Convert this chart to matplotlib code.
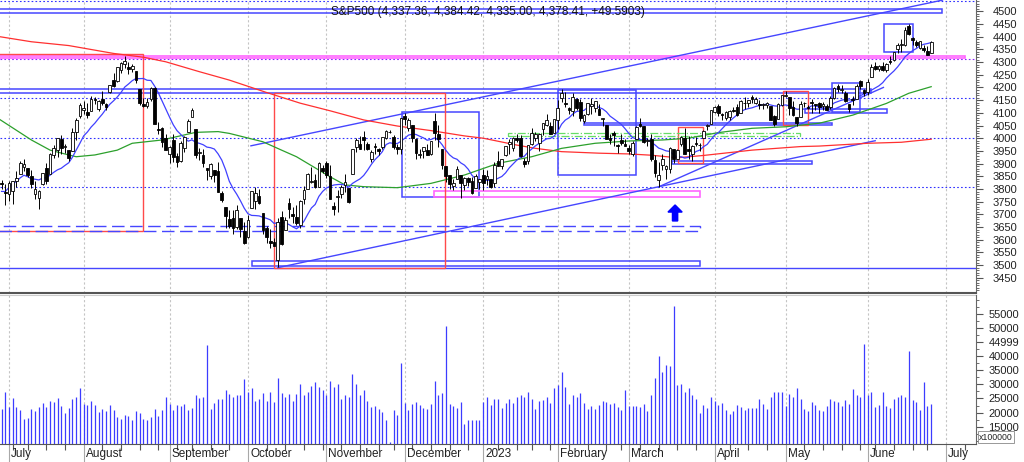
import numpy as np
import pandas as pd
import matplotlib
matplotlib.use("Agg")
import matplotlib.pyplot as plt
from matplotlib.patches import Rectangle, Polygon
from matplotlib.ticker import FixedLocator, FixedFormatter, MultipleLocator

plt.rcParams['font.family'] = ['Liberation Sans', 'DejaVu Sans']

# ---------------- data (index -2 = 2022-06-29 ... 247 = 2023-06-27) ----------------
opens = [
 3825.09,3785.99,3781.00,3792.61,3831.98,3858.85,3888.26,3880.94,3851.95,3779.67,
 3763.99,3818.00,3883.79,3860.73,3935.32,3955.47,3998.43,3965.72,3953.22,3951.43,
 4026.13,4087.33,4112.38,4104.21,4107.96,4154.85,4115.87,4155.93,4133.11,4181.02,
 4227.40,4225.02,4269.37,4290.46,4280.40,4273.13,4266.31,4195.08,4133.09,4126.55,
 4153.26,4198.74,4034.58,4041.25,4000.67,3936.73,3994.66,3930.89,3909.43,3959.94,
 4022.94,4083.67,4037.12,3940.73,3932.41,3880.95,3849.91,3875.23,3871.40,3782.36,
 3727.14,3682.72,3686.44,3651.94,3687.01,3633.48,3609.78,3726.46,3753.25,3771.97,
 3706.74,3647.51,3595.86,3590.83,3520.37,3690.41,3638.65,3746.26,3703.11,3689.05,
 3657.10,3762.01,3799.44,3825.97,3834.69,3808.26,3881.85,3901.79,3852.90,3733.25,
 3766.98,3780.71,3817.02,3805.45,3859.89,3963.72,3977.97,4006.41,3976.82,3919.26,
 3966.39,3956.23,3965.51,4000.30,4023.34,4005.36,3964.19,3957.18,4087.14,4040.17,
 4052.02,3996.63,3933.28,3947.79,3954.17,3939.29,4069.38,4015.54,3958.37,3890.91,
 3853.79,3810.47,3839.49,3853.26,3815.11,3843.34,3829.56,3805.45,3829.06,3853.29,
 3840.36,3839.74,3823.37,3910.82,3888.57,3932.35,3977.57,3960.60,3999.28,4002.25,
 3911.84,3909.04,3978.14,4001.74,3982.71,4036.08,4053.72,4049.27,4020.85,4070.07,
 4158.68,4136.69,4119.57,4105.35,4153.47,4144.25,4068.92,4096.62,4126.70,4119.50,
 4114.75,4077.39,4052.35,4001.83,4018.60,3973.24,3992.36,3977.19,3963.34,3938.68,
 3998.02,4055.15,4048.26,3987.55,3998.66,3912.77,3835.12,3894.01,3876.74,3878.93,
 3958.69,3917.47,3975.89,4002.04,3959.21,3939.21,3982.93,3974.13,3999.53,4046.74,
 4056.18,4102.20,4128.03,4094.50,4081.15,4085.20,4110.29,4121.72,4100.04,4140.11,
 4137.17,4164.26,4139.33,4130.48,4132.14,4132.07,4126.43,4087.78,4075.29,4129.63,
 4166.79,4164.10,4122.25,4082.61,4084.73,4136.98,4124.25,4143.74,4132.24,4138.54,
 4126.65,4127.95,4122.85,4157.68,4204.15,4190.78,4176.80,4132.96,4155.71,4156.16,
 4226.71,4190.74,4183.03,4241.01,4282.99,4271.61,4285.47,4268.69,4304.88,4308.32,
 4352.61,4366.29,4365.33,4440.95,4396.11,4380.01,4355.40,4354.17,4344.84,4337.36]
highs = [
 3836.50,3818.99,3829.82,3832.19,3870.91,3910.63,3918.50,3880.94,3873.41,3829.44,
 3796.41,3863.62,3902.44,3939.81,3974.13,3999.29,4012.44,3975.30,3953.22,4039.56,
 4078.95,4140.15,4144.95,4140.47,4167.66,4161.29,4151.58,4186.62,4137.30,4211.03,
 4257.91,4280.47,4301.79,4325.28,4302.18,4292.53,4266.31,4195.08,4159.77,4156.56,
 4200.54,4203.04,4062.99,4044.98,4015.37,3970.23,4018.43,3942.55,3987.89,4010.50,
 4076.81,4119.28,4037.12,3961.94,3959.14,3880.95,3900.45,3876.01,3907.07,3790.78,
 3727.14,3715.67,3717.53,3736.74,3687.01,3671.44,3698.35,3791.92,3806.91,3797.93,
 3706.74,3652.17,3640.66,3608.34,3685.41,3712.00,3689.73,3762.79,3728.58,3736.00,
 3757.89,3810.74,3862.85,3886.15,3859.95,3905.42,3893.73,3911.79,3894.44,3750.59,
 3796.34,3813.95,3859.40,3805.45,3958.33,4001.48,4008.97,4028.84,3983.09,3954.33,
 3979.89,3962.00,4005.88,4033.78,4034.02,4012.27,3976.77,4080.11,4100.51,4080.48,
 4052.45,4001.51,3957.57,3966.64,3977.02,3990.71,4100.96,4053.76,3958.37,3890.91,
 3854.86,3838.24,3889.28,3853.26,3845.80,3846.65,3848.32,3858.19,3839.85,3878.46,
 3873.16,3839.74,3906.19,3950.57,3919.83,3970.07,3997.76,4003.95,4015.39,4014.16,
 3922.94,3972.96,4039.31,4023.92,4019.55,4061.57,4094.21,4063.85,4077.16,4148.95,
 4195.44,4182.36,4124.63,4176.54,4156.85,4156.23,4094.36,4138.90,4159.77,4148.11,
 4136.54,4081.51,4052.35,4017.37,4028.30,3978.25,4018.05,3997.50,3971.73,3990.84,
 4048.29,4078.49,4050.00,4000.41,4017.81,3934.05,3905.05,3937.29,3894.26,3964.46,
 3958.91,3956.62,4009.08,4039.49,4007.66,3972.74,4003.83,3979.20,4030.59,4057.85,
 4110.75,4127.66,4133.13,4099.69,4107.32,4109.50,4124.26,4134.37,4150.26,4163.19,
 4151.72,4169.48,4162.57,4148.57,4138.02,4142.41,4126.43,4089.67,4138.24,4170.06,
 4186.92,4164.10,4148.30,4082.61,4147.02,4142.30,4130.35,4154.28,4132.80,4143.74,
 4141.25,4135.54,4164.67,4202.20,4212.91,4209.22,4185.68,4132.96,4165.74,4212.87,
 4231.10,4195.44,4232.43,4290.67,4299.28,4288.33,4299.19,4298.01,4322.62,4340.13,
 4375.37,4391.82,4439.20,4448.47,4400.15,4386.22,4382.25,4366.55,4362.06,4384.42]
lows = [
 3799.02,3738.67,3752.10,3742.06,3809.37,3858.85,3869.34,3847.22,3802.36,3759.07,
 3721.56,3817.18,3818.63,3860.73,3922.03,3927.64,3938.85,3943.46,3910.74,3951.43,
 3992.97,4079.22,4096.02,4079.81,4107.96,4135.42,4107.31,4128.97,4112.09,4177.26,
 4201.41,4219.78,4256.90,4277.77,4253.08,4261.98,4218.70,4129.86,4124.03,4119.97,
 4147.59,4057.66,4017.42,3965.21,3954.53,3903.65,3906.21,3886.75,3906.03,3944.81,
 4022.94,4083.67,3921.21,3912.86,3888.28,3837.08,3838.50,3827.54,3789.49,3749.45,
 3647.47,3644.76,3623.29,3640.61,3610.40,3584.13,3604.93,3726.46,3722.66,3739.22,
 3620.73,3588.10,3568.45,3573.86,3491.58,3578.27,3638.65,3686.53,3666.51,3656.44,
 3647.42,3741.65,3799.44,3824.07,3803.79,3808.26,3863.18,3843.80,3758.68,3698.15,
 3708.84,3764.70,3786.28,3744.62,3859.89,3944.82,3956.40,3953.17,3954.34,3906.54,
 3935.98,3933.34,3956.88,3998.66,4020.76,3955.77,3937.65,3938.58,4050.87,4026.63,
 3984.49,3918.39,3922.68,3922.76,3933.04,3935.30,3993.03,3965.65,3879.45,3827.91,
 3800.04,3795.62,3839.49,3764.49,3797.01,3813.22,3780.78,3805.45,3800.34,3794.33,
 3815.77,3802.42,3809.56,3890.42,3877.29,3928.54,3937.56,3947.67,3984.57,3926.59,
 3885.54,3897.86,3971.64,3989.79,3949.06,4013.29,4048.70,4015.55,4020.44,4037.20,
 4141.88,4123.36,4093.38,4088.39,4111.67,4069.67,4060.79,4092.67,4095.01,4103.98,
 4089.49,4047.95,3995.19,3976.90,3969.19,3943.08,3973.55,3968.98,3939.05,3928.16,
 3995.17,4044.61,3980.31,3969.76,3908.70,3846.32,3808.86,3873.63,3838.24,3864.11,
 3901.27,3916.89,3971.19,3936.17,3919.05,3909.16,3970.47,3951.53,3999.53,4032.10,
 4056.18,4097.56,4086.87,4072.56,4069.84,4072.55,4102.61,4086.94,4099.40,4113.20,
 4123.18,4140.36,4134.49,4114.57,4113.86,4117.77,4071.38,4049.35,4075.29,4127.18,
 4164.12,4089.72,4088.86,4048.28,4084.73,4123.81,4116.65,4098.92,4109.29,4099.12,
 4110.27,4109.86,4113.62,4153.50,4180.20,4179.68,4142.54,4103.98,4129.73,4156.16,
 4192.18,4166.15,4171.64,4241.01,4266.82,4263.09,4263.96,4261.07,4291.70,4304.37,
 4337.51,4337.85,4362.60,4407.44,4367.19,4360.14,4351.82,4341.34,4328.08,4335.00]
closes = [
 3818.83,3785.38,3825.33,3831.39,3845.08,3902.62,3899.38,3854.43,3818.80,3801.78,
 3790.38,3863.16,3830.85,3936.69,3959.90,3998.95,3961.63,3966.84,3921.05,4023.61,
 4072.43,4130.29,4118.63,4091.19,4155.17,4151.94,4145.19,4140.06,4122.47,4210.24,
 4207.27,4280.15,4297.14,4305.20,4274.04,4283.74,4228.48,4137.99,4128.73,4140.77,
 4199.12,4057.66,4030.61,3986.16,3955.00,3966.85,3924.26,3908.19,3979.87,4006.18,
 4067.36,4110.41,3932.69,3946.01,3901.35,3873.33,3899.89,3855.93,3789.93,3757.99,
 3693.23,3655.04,3647.29,3719.04,3640.47,3585.62,3678.43,3790.93,3783.28,3744.52,
 3639.66,3612.39,3588.84,3577.03,3669.91,3583.07,3677.95,3719.98,3695.16,3665.78,
 3752.75,3797.34,3859.11,3830.60,3807.30,3901.06,3871.98,3856.10,3759.69,3719.89,
 3770.55,3806.80,3828.11,3748.57,3956.37,3992.93,3957.25,3991.73,3958.79,3946.56,
 3965.34,3949.94,4003.58,4027.26,4026.12,3963.94,3957.63,4080.11,4076.57,4071.70,
 3998.84,3941.26,3933.92,3963.51,3934.38,3990.56,4019.65,3995.32,3895.75,3852.36,
 3817.66,3821.62,3878.44,3822.39,3844.82,3829.25,3783.22,3849.28,3839.50,3824.14,
 3852.97,3808.10,3895.08,3892.09,3919.25,3969.61,3983.17,3999.09,3990.97,3928.86,
 3898.85,3972.61,4019.81,4016.95,4016.22,4060.43,4070.56,4017.77,4076.60,4119.21,
 4179.76,4136.48,4111.08,4164.00,4117.86,4081.50,4090.46,4137.29,4136.13,4147.60,
 4090.41,4079.09,3997.34,3991.05,4012.32,3970.04,3982.24,3970.15,3951.39,3981.35,
 4045.64,4048.42,3986.37,3992.01,3918.32,3861.59,3855.76,3919.29,3891.93,3960.28,
 3916.64,3951.57,4002.87,3936.97,3948.72,3970.99,3977.53,3971.27,4027.81,4050.83,
 4109.31,4124.51,4100.60,4090.38,4105.02,4109.11,4108.94,4091.95,4146.22,4137.64,
 4151.32,4154.87,4154.52,4129.79,4133.52,4137.04,4071.63,4055.99,4135.35,4169.48,
 4167.87,4119.58,4090.75,4061.22,4136.25,4138.12,4119.17,4137.64,4130.62,4124.08,
 4136.28,4109.90,4158.77,4198.05,4191.98,4192.63,4145.58,4115.24,4151.28,4205.45,
 4205.52,4179.83,4221.02,4282.37,4273.79,4283.85,4267.52,4293.93,4298.86,4338.93,
 4369.01,4372.59,4425.84,4409.59,4388.71,4365.69,4381.89,4348.33,4328.82,4378.41]
# closes of the 9 sessions before the first candle (only feed the 10-day average)
prior_closes = [3789.99, 3666.77, 3674.84, 3764.79, 3759.89, 3795.73, 3911.74, 3900.11, 3821.55]
# volume in units of 100000 shares
volumes = [
 21300,27200,22100,25300,22100,20900,17700,18200,21300,20700,
 21800,23300,21800,24100,23800,25000,22300,19700,21700,24800,
 25600,28800,23000,22700,24200,22600,20100,21400,20700,22600,
 20900,18400,17700,19100,18900,17500,20500,19800,17700,17500,
 18400,21400,18900,20800,25600,23000,20900,22600,22300,23000,
 20900,21500,26300,25300,25400,43900,21400,23300,24900,24700,
 28000,26400,25400,26300,26100,31800,27400,28600,24100,24800,
 26800,24100,27400,23700,32200,26800,25600,26600,24100,26400,
 30200,26100,27400,29400,30900,28900,28000,26300,31200,28900,
 30200,24900,26200,25600,33600,30200,26200,28000,24100,22100,
 22300,21400,20200,17500,9700,20900,19100,37700,23300,20900,
 23000,23600,22700,21600,21400,23000,31300,26200,26800,50600,
 23000,22300,21600,23700,15800,17500,17500,17500,17200,23700,
 25600,22700,24700,24900,21600,23500,24700,23300,25600,26300,
 25600,27200,24800,21400,24200,24400,25600,23300,28800,29700,
 34400,29200,22900,26300,25600,26800,23300,21300,22300,21300,
 22700,24100,23600,22900,23300,22100,20900,27900,22400,22400,
 22300,22100,22900,20500,26200,32100,40100,34400,36800,36500,
 57700,29600,30100,27400,28600,26100,24700,20000,22700,21500,
 25400,24200,22600,23300,20900,19400,20400,22600,22000,20900,
 21500,21500,21500,24700,23000,21300,25600,27200,27200,27200,
 22300,26600,25600,28800,24700,21300,20500,23600,22700,20800,
 20500,22300,24700,24100,23600,22400,24400,22900,28200,26100,
 25600,44100,26100,27400,22100,22800,27400,22300,21600,24800,
 25400,26300,25600,41800,24400,23600,20900,30900,22400,23000]

# 50-day (green) and 200-day (red) averages: (session index, level)
ma50_idx = [-2.5, 6, 11, 16, 18, 23, 29, 33, 41, 50, 56, 59, 68, 73, 77, 86, 90, 95, 104,
            113, 122, 131, 140, 148, 157, 166, 175, 182, 190, 199, 208, 217, 226, 235, 241, 247]
ma50_val = [4074, 3993, 3953, 3934, 3927, 3934, 3953, 3980, 3993, 4023, 4026, 4019, 3986, 3953,
            3927, 3848, 3816, 3809, 3805, 3822, 3855, 3901, 3927, 3960, 3980, 3989, 3993, 4000,
            4022, 4039, 4045, 4059, 4091, 4137, 4177, 4203]
ma200_idx = [-2.5, 6, 16, 28, 36, 42, 51, 59, 69, 78, 86, 95, 104, 113, 122, 127, 136, 141,
             148, 158, 166, 172, 179, 186, 199, 212, 217, 230, 239, 247]
ma200_val = [4400, 4380, 4365, 4334, 4319, 4301, 4262, 4229, 4180, 4138, 4108, 4072, 4048,
             4030, 4009, 4000, 3973, 3960, 3947, 3941, 3938, 3933, 3923, 3932, 3953, 3967,
             3969, 3980, 3984, 3996]

holidays = ['2022-07-04', '2022-09-05', '2022-11-24', '2022-12-26', '2023-01-02',
            '2023-01-16', '2023-02-20', '2023-04-07', '2023-05-29', '2023-06-19']

# drawn annotations (session index from, to, price from, to)
blue_boxes = [(-5, 250.0, 4492, 4508), (-5, 231.0, 4180, 4193), (65.0, 185.1, 3495, 3515),
              (105.2, 125.9, 3767, 4102), (147.0, 167.9, 3855, 4190), (154.0, 220.4, 4051, 4060),
              (213.2, 235.1, 4100, 4114), (220.4, 228.0, 4104, 4216), (234.4, 242.0, 4338, 4450),
              (177.5, 215.2, 3898, 3911)]
pink_boxes = [(-5, 256.0, 4316, 4325), (113.9, 185.1, 3769, 3793)]
red_boxes = [(-5, 35.9, 3636, 4331), (71.1, 116.8, 3490, 4177),
             (207.2, 214.1, 4052, 4187), (179.3, 186.0, 3903, 4043)]
dashed_box = (-5, 185.1, 3636, 3655)
green_box = (133.7, 211.9, 4009, 4022)
dotted_levels = [4541, 4157, 4000, 3807]
magenta_level = 4313
solid_level = 3488
trend_lines = [((64.8, 3970), (250.0, 4544)), ((72.0, 3490), (232.0, 3990)),
               ((174.1, 3809), (234.2, 4200))]
arrow_pos = (178.4, 3674, 3737)
title = "S&P500 (4,337.36, 4,384.42, 4,335.00, 4,378.41, +49.5903)"

# ---------------- calendar ----------------
tdays = pd.bdate_range('2022-06-29', '2023-06-27')
tdays = tdays[~tdays.isin(pd.to_datetime(holidays))]
future = pd.bdate_range('2023-06-28', '2023-07-21')
cal = tdays.append(future)
pos_all = np.arange(len(cal)) - 2
n = len(closes)
x = np.arange(n) - 2

month_pos, month_lab, week_pos = [], [], []
for k in range(1, len(cal)):
    if cal[k].month != cal[k - 1].month:
        month_pos.append(pos_all[k])
        month_lab.append(str(cal[k].year) if cal[k].month == 1 else cal[k].strftime('%B'))
    if cal[k].isocalendar()[1] != cal[k - 1].isocalendar()[1]:
        week_pos.append(pos_all[k])

ma10 = pd.Series(prior_closes + closes).rolling(10).mean().values[len(prior_closes):]

# ---------------- figure ----------------
W, H = 1024, 462
fig = plt.figure(figsize=(W / 100, H / 100), dpi=100)
axp = fig.add_axes([0, 1 - 293 / H, 976 / W, 293 / H])
axv = fig.add_axes([0, 1 - 443.7 / H, 976 / W, (443.7 - 295) / H])

XL = (-2.41, 259.0)
BLUE = '#4646ff'
GRID = '#c4c4c4'

# price panel
axp.set_xlim(*XL)
axp.set_ylim(3390.1, 4544.5)
for mp in month_pos:
    axp.axvline(mp, color=GRID, lw=0.8, ls=(0, (2, 2)), zorder=0)
for lv in dotted_levels:
    axp.axhline(lv, color='#3030ff', lw=0.8, ls=(0, (1.5, 2)), zorder=1)
axp.axhline(magenta_level, color='#9020ff', lw=0.8, ls=(0, (1.5, 2)), zorder=1)
axp.axhline(solid_level, color=BLUE, lw=1.0, zorder=1)

for (a, b, p0, p1) in blue_boxes:
    axp.add_patch(Rectangle((a, p0), b - a, p1 - p0, fill=False, ec=BLUE, lw=1.1, zorder=2))
for (a, b, p0, p1) in pink_boxes:
    axp.add_patch(Rectangle((a, p0), b - a, p1 - p0, fill=False, ec='#ff66ff', lw=1.2, zorder=2))
for (a, b, p0, p1) in red_boxes:
    axp.add_patch(Rectangle((a, p0), b - a, p1 - p0, fill=False, ec='#ff4a4a', lw=1.0, zorder=2))
a, b, p0, p1 = dashed_box
axp.add_patch(Rectangle((a, p0), b - a, p1 - p0, fill=False, ec=BLUE, lw=1.0, ls=(0, (9, 4)), zorder=2))
a, b, p0, p1 = green_box
axp.add_patch(Rectangle((a, p0), b - a, p1 - p0, fill=False, ec='#66dd66', lw=0.9, ls='-.', zorder=2))
for (p, q) in trend_lines:
    axp.plot([p[0], q[0]], [p[1], q[1]], color=BLUE, lw=1.0, zorder=2)

# moving averages
axp.plot(ma200_idx, ma200_val, color='#ff3030', lw=0.9, zorder=3)
axp.plot(ma50_idx, ma50_val, color='#2ca02c', lw=0.9, zorder=3)
axp.plot(x, ma10, color='#4040ff', lw=0.9, zorder=3)

# candles
o = np.array(opens); h = np.array(highs); l = np.array(lows); c = np.array(closes)
up = c >= o
axp.vlines(x, l, h, color='black', lw=0.7, zorder=4)
body_lo = np.minimum(o, c)
body_h = np.maximum(np.abs(c - o), 3.0)
axp.bar(x[up], body_h[up], bottom=body_lo[up], width=0.72, color='white',
        edgecolor='black', lw=0.6, zorder=5)
axp.bar(x[~up], body_h[~up], bottom=body_lo[~up], width=0.72, color='black',
        edgecolor='black', lw=0.6, zorder=5)

# arrow
ci, pb, pt = arrow_pos
hw, sw = 1.9, 0.7
ph = pt - 28
axp.add_patch(Polygon([(ci, pt), (ci + hw, ph), (ci + sw, ph), (ci + sw, pb), (ci - sw, pb),
                       (ci - sw, ph), (ci - hw, ph)], closed=True, color='#0000ff', zorder=6))

axp.text(86.3, 4497, title, fontsize=8.5, ha='left', va='center', color='#111111', zorder=7)

axp.yaxis.tick_right()
axp.yaxis.set_major_locator(FixedLocator(np.arange(3450, 4501, 50)))
axp.yaxis.set_minor_locator(MultipleLocator(10))
axp.tick_params(axis='y', which='major', length=5, width=0.8, pad=7, labelsize=8,
                colors='#555555', labelcolor='#222222')
axp.tick_params(axis='y', which='minor', length=2.5, width=0.6, colors='#555555')
axp.tick_params(axis='x', which='both', bottom=False, labelbottom=False)
for s in ('top', 'left'):
    axp.spines[s].set_visible(False)
axp.spines['right'].set_color('#666666')
axp.spines['bottom'].set_color('#555555')
axp.spines['bottom'].set_linewidth(1.5)

# volume panel
axv.set_xlim(*XL)
axv.set_ylim(8982, 61619)
for mp in month_pos:
    axv.axvline(mp, color=GRID, lw=0.8, ls=(0, (2, 2)), zorder=0)
axv.vlines(x, 0, volumes, color='#3c3cff', lw=0.9, zorder=2)
vt = [15000, 20000, 25000, 30000, 35000, 40000, 45000, 50000, 55000]
vl = ['15000', '20000', '25000', '30000', '35000', '40000', '44999', '50000', '55000']
axv.yaxis.tick_right()
axv.yaxis.set_major_locator(FixedLocator(vt))
axv.yaxis.set_major_formatter(FixedFormatter(vl))
axv.yaxis.set_minor_locator(MultipleLocator(2500))
axv.tick_params(axis='y', which='major', length=5, width=0.8, pad=4, labelsize=8,
                colors='#555555', labelcolor='#222222')
axv.tick_params(axis='y', which='minor', length=2.5, width=0.6, colors='#555555')
axv.xaxis.set_major_locator(FixedLocator(month_pos))
axv.xaxis.set_minor_locator(FixedLocator(week_pos))
axv.tick_params(axis='x', which='major', length=19, width=0.8, colors='#a8a8a8', labelbottom=False)
axv.tick_params(axis='x', which='minor', length=4, width=0.8, colors='#555555')
for s in ('top', 'left'):
    axv.spines[s].set_visible(False)
axv.spines['right'].set_color('#666666')
axv.spines['bottom'].set_color('#555555')
for mp, lab in zip(month_pos, month_lab):
    axv.text(mp + 0.55, -0.0713, lab, transform=axv.get_xaxis_transform(), fontsize=8.5,
             ha='left', va='center', color='#222222')
axv.axhline(61619, color='#cccccc', lw=0.8, clip_on=False)

fig.text(979 / W, 1 - 437 / H, 'x100000', fontsize=6.3, ha='left', va='center', color='#222222',
         bbox=dict(boxstyle='square,pad=0.12', fc='white', ec='#888888', lw=0.6))

fig.savefig('out.png', dpi=100, facecolor='white')
